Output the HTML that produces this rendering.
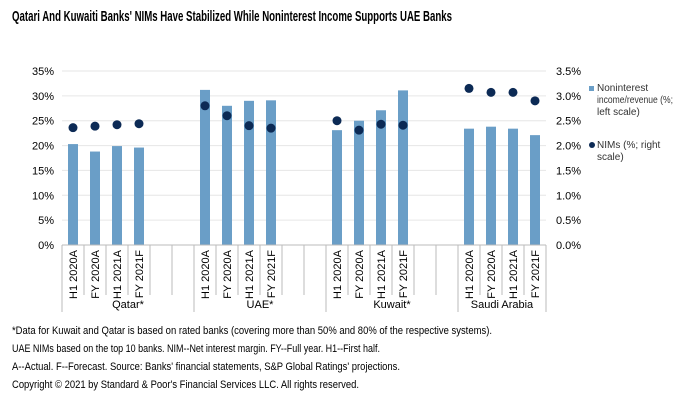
<!DOCTYPE html>
<html><head><meta charset="utf-8"><style>
body{margin:0;background:#fff;}
svg{display:block;font-family:"Liberation Sans",Arial,sans-serif;}
</style></head><body>
<svg id="chart" width="680" height="402" viewBox="0 0 680 402">
<text x="12" y="21" font-size="15" font-weight="bold" fill="#000" textLength="440" lengthAdjust="spacingAndGlyphs">Qatari And Kuwaiti Banks' NIMs Have Stabilized While Noninterest Income Supports UAE Banks</text>
<g id="grid"></g><g id="bars"></g><g id="dots"></g><g id="axes"></g>
<g>
<rect x="589" y="86" width="5" height="5" fill="#6a9ec7"/>
<text font-size="10" fill="#333"><tspan x="597" y="91">Noninterest</tspan><tspan x="597" y="103" textLength="76" lengthAdjust="spacingAndGlyphs">income/revenue (%;</tspan><tspan x="597" y="115">left scale)</tspan></text>
<circle cx="592" cy="145" r="3" fill="#0c2a55"/>
<text font-size="10" fill="#333"><tspan x="597" y="148">NIMs (%; right</tspan><tspan x="597" y="160">scale)</tspan></text>
</g>
<g font-size="11" fill="#000">
<text x="12" y="334" textLength="480" lengthAdjust="spacingAndGlyphs">*Data for Kuwait and Qatar is based on rated banks (covering  more than 50% and 80% of the respective systems).</text>
<text x="12" y="352" textLength="368" lengthAdjust="spacingAndGlyphs">UAE NIMs based on the top 10 banks. NIM--Net interest margin. FY--Full year. H1--First half.</text>
<text x="12" y="370" textLength="388" lengthAdjust="spacingAndGlyphs">A--Actual. F--Forecast. Source: Banks' financial statements, S&amp;P Global Ratings' projections.</text>
<text x="12" y="388" textLength="347" lengthAdjust="spacingAndGlyphs">Copyright © 2021 by Standard &amp; Poor's Financial Services LLC. All rights reserved.</text>
</g>
</svg>
<script>
const groups = ["Qatar*","UAE*","Kuwait*","Saudi Arabia"];
const periods = ["H1 2020A","FY 2020A","H1 2021A","FY 2021F"];
const nonInterest = [[20.3,18.8,19.9,19.6],[31.2,28.0,29.0,29.1],[23.1,25.0,27.1,31.1],[23.4,23.8,23.4,22.1]];
const nims = [[2.36,2.39,2.42,2.44],[2.80,2.60,2.40,2.35],[2.50,2.31,2.43,2.41],[3.15,3.07,3.07,2.90]];
const leftTicks = [0,5,10,15,20,25,30,35];
const rightTicks = [0,0.5,1,1.5,2,2.5,3,3.5];
const groupSlots = [6,6,6,4];

const NS="http://www.w3.org/2000/svg";
const X0=62, SLOT=22, YB=245, YT=71;
const yL=v=>YB-(v/35)*(YB-YT);
const yR=v=>YB-(v/3.5)*(YB-YT);
function mk(tag,attrs,parent,txt){const e=document.createElementNS(NS,tag);for(const k in attrs)e.setAttribute(k,attrs[k]);if(txt!=null)e.textContent=txt;parent.appendChild(e);return e;}
const grid=document.getElementById('grid'),bars=document.getElementById('bars'),dots=document.getElementById('dots'),axes=document.getElementById('axes');
const totalSlots=groupSlots.reduce((a,b)=>a+b,0), XE=X0+totalSlots*SLOT;
leftTicks.forEach((t,i)=>{
  const y=yL(t);
  if(t>0){const l=mk('line',{x1:X0,x2:XE,y1:y,y2:y,stroke:'#e6e6e6','stroke-width':1},grid);
  
  }
  const tx=mk('text',{x:54,y:y+4,'text-anchor':'end','font-size':11,fill:'#000'},axes,t+'%');
  
  
});
rightTicks.forEach(t=>{
  const tx=mk('text',{x:556,y:yR(t)+4,'font-size':11,fill:'#000'},axes,t.toFixed(1)+'%');
  
  
});
const base=mk('line',{x1:X0,x2:XE,y1:YB,y2:YB,stroke:'#bbb'},axes);


let slot=0;
groups.forEach((g,gi)=>{
  const gx=X0+slot*SLOT;
  const sep=mk('line',{x1:gx,x2:gx,y1:YB,y2:312,stroke:'#bbb'},axes);
  
  
  for(let s=1;s<groupSlots[gi];s++){
    const sx=gx+s*SLOT;
    const l=mk('line',{x1:sx,x2:sx,y1:YB,y2:295,stroke:'#bbb'},axes);
    
    
  }
  periods.forEach((p,pi)=>{
    const cx=gx+(pi+0.5)*SLOT;
    const v=nonInterest[gi][pi];
    const r=mk('rect',{x:cx-5,y:yL(v),width:10,height:YB-yL(v),fill:'#6a9ec7'},bars);
    
    
    const c=mk('circle',{cx:cx,cy:yR(nims[gi][pi]),r:4.5,fill:'#0c2a55'},dots);
    
    
    const t=mk('text',{x:0,y:0,'font-size':11,fill:'#000','text-anchor':'end',transform:`translate(${cx+4},250) rotate(-90)`},axes,p);
    
    
  });
  const gt=mk('text',{x:gx+groupSlots[gi]*SLOT/2,y:308,'font-size':11,fill:'#000','text-anchor':'middle'},axes,g);
  
  
  slot+=groupSlots[gi];
});
const endSep=mk('line',{x1:XE,x2:XE,y1:YB,y2:312,stroke:'#bbb'},axes);


</script>
</body></html>
